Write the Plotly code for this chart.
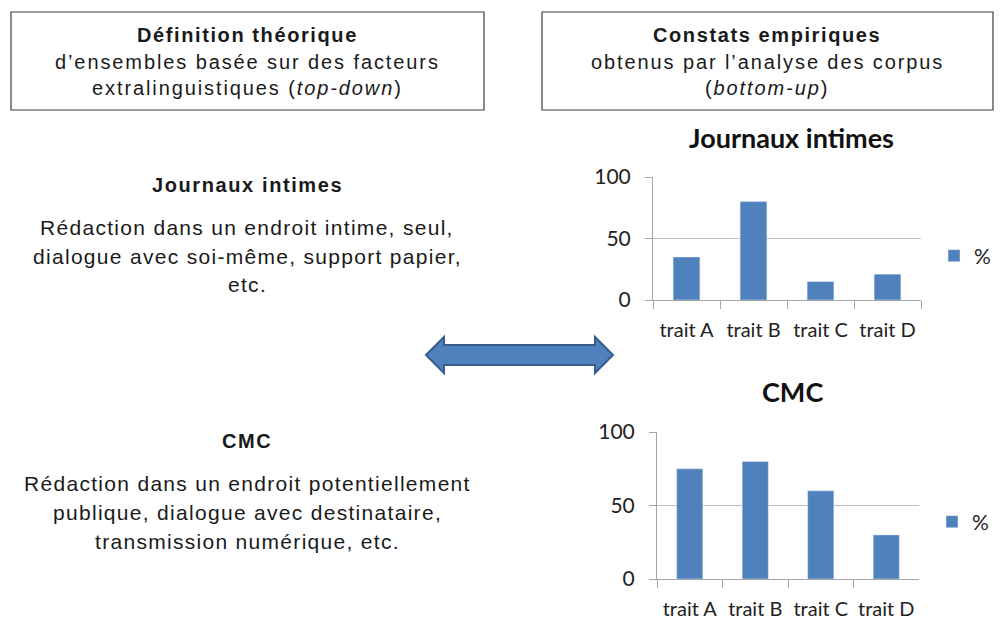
import plotly.graph_objects as go

W, H = 1003, 618
OFF = 8  # page body margin in the browser

categories = ["trait A", "trait B", "trait C", "trait D"]
journaux_values = [35, 80, 15, 21]
cmc_values = [75, 80, 60, 30]
y_ticks = [0, 50, 100]
series_name = "%"

BLUE = "#4F81BD"
TEXT_FONT = "Liberation Sans, Arial, sans-serif"
CHART_FONT = "Lato, Carlito, Calibri, sans-serif"


def px(x):
    return (x - OFF) / W


def py(y):
    return 1 - (y - OFF) / H


fig = go.Figure()
fig.add_trace(go.Bar(x=categories, y=journaux_values, name=series_name, marker_color=BLUE,
                     width=0.4, xaxis="x", yaxis="y", legend="legend"))
fig.add_trace(go.Bar(x=categories, y=cmc_values, name=series_name, marker_color=BLUE,
                     width=0.4, xaxis="x2", yaxis="y2", legend="legend2"))

axis_common_x = dict(type="category", showline=True, linecolor="#A6A6A6", linewidth=1,
                     ticks="outside", tickson="boundaries", ticklen=8, tickcolor="#A6A6A6",
                     showgrid=False, tickfont=dict(family=CHART_FONT, size=20, color="#222"),
                     tickangle=0, ticklabelstandoff=12, fixedrange=True)
axis_common_y = dict(range=[0, 100], tickvals=y_ticks, showline=True, linecolor="#A6A6A6",
                     ticks="outside", ticklen=7, tickcolor="#A6A6A6", showgrid=True,
                     gridcolor="#BFBFBF", zeroline=False, ticklabelstandoff=10,
                     tickfont=dict(family=CHART_FONT, size=21, color="#222"), fixedrange=True)

fig.update_layout(
    width=W, height=H,
    margin=dict(l=0, r=0, t=0, b=0, pad=0, autoexpand=False),
    paper_bgcolor="white", plot_bgcolor="white",
    xaxis=dict(domain=[px(653), px(921)], anchor="y", **axis_common_x),
    yaxis=dict(domain=[py(300), py(177)], anchor="x", **axis_common_y),
    xaxis2=dict(domain=[px(657), px(919)], anchor="y2", **axis_common_x),
    yaxis2=dict(domain=[py(579), py(432)], anchor="x2", **axis_common_y),
    legend=dict(x=px(934), y=py(256), xanchor="left", yanchor="middle",
                font=dict(family=CHART_FONT, size=21, color="#222"), bgcolor="rgba(0,0,0,0)",
                itemwidth=30),
    legend2=dict(x=px(932), y=py(522), xanchor="left", yanchor="middle",
                 font=dict(family=CHART_FONT, size=21, color="#222"), bgcolor="rgba(0,0,0,0)",
                 itemwidth=30),
    showlegend=True,
)

# Boxes
for x0, x1 in [(11, 484), (542, 993)]:
    fig.add_shape(type="rect", xref="paper", yref="paper", x0=px(x0), x1=px(x1),
                  y0=py(110), y1=py(12), line=dict(color="#3F3F3F", width=1.2))

# Double arrow
pts = [(426, 355), (444, 337), (444, 345), (595, 345), (595, 337), (613, 355),
       (595, 373), (595, 365), (444, 365), (444, 373)]
path = "M " + " L ".join(f"{px(x)},{py(y)}" for x, y in pts) + " Z"
fig.add_shape(type="path", xref="paper", yref="paper", path=path,
              fillcolor=BLUE, line=dict(color="#385D8A", width=2))


def text(x, y, s, size=20, family=TEXT_FONT, color="#1a1a1a", ls=None):
    if ls:
        s = f'<span style="letter-spacing:{ls}px">{s}</span>'
    fig.add_annotation(x=px(x), y=py(y), xref="paper", yref="paper", text=s, showarrow=False,
                       xanchor="center", yanchor="middle",
                       font=dict(family=family, size=size, color=color))


text(247, 35, "<b>Définition théorique</b>", ls=1.6)
text(247, 62, "d’ensembles basée sur des facteurs", ls=1.9)
text(247, 88, "extralinguistiques (<i>top-down</i>)", ls=1.9)

text(767, 35, "<b>Constats empiriques</b>", ls=1.6)
text(767, 62, "obtenus par l’analyse des corpus", ls=1.9)
text(767, 88, "(<i>bottom-up</i>)", ls=1.9)

text(247, 185, "<b>Journaux intimes</b>", ls=1.6)
text(247, 227, "Rédaction dans un endroit intime, seul,", size=21, ls=1.3)
text(247, 256, "dialogue avec soi-même, support papier,", size=21, ls=1.3)
text(247, 285, "etc.", size=21, ls=1.3)

text(247, 441, "<b>CMC</b>", ls=1.6)
text(247, 483, "Rédaction dans un endroit potentiellement", size=21, ls=1.3)
text(247, 512, "publique, dialogue avec destinataire,", size=21, ls=1.3)
text(247, 541, "transmission numérique, etc.", size=21, ls=1.3)

text(791, 137, "<b>Journaux intimes</b>", size=27, family=CHART_FONT, color="#111")
text(792, 391, "<b>CMC</b>", size=27, family=CHART_FONT, color="#111")

fig.write_html("out.html")
